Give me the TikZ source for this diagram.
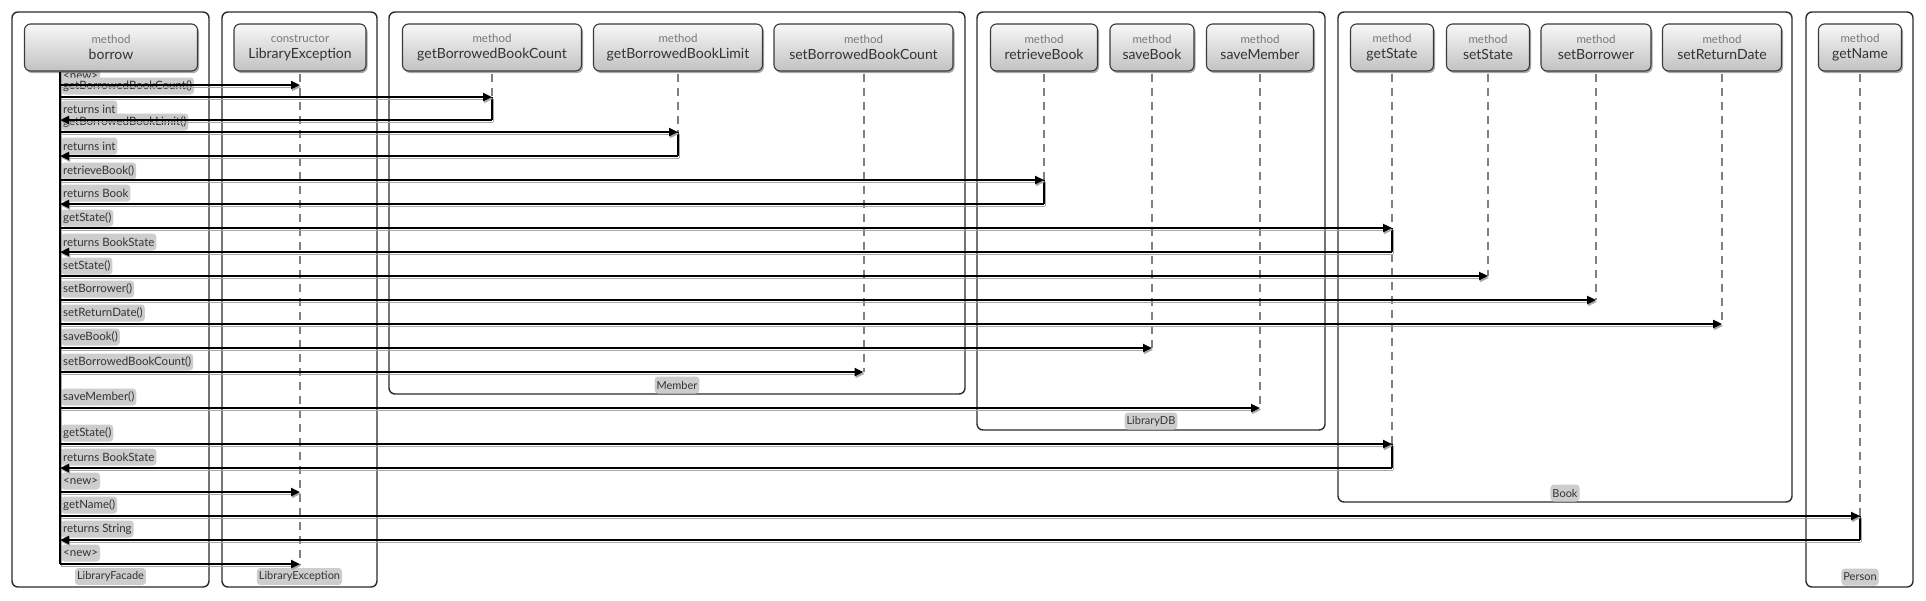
\documentclass[tikz,border=0pt]{standalone}
\usepackage{fontspec}
\setmainfont{Lato}
\usetikzlibrary{arrows.meta,shadows,calc}
\definecolor{framec}{HTML}{2B2B2B}
\definecolor{headborder}{HTML}{3A3A3A}
\definecolor{labelfill}{HTML}{CDCDCD}
\definecolor{labeltext}{HTML}{333333}
\definecolor{lifec}{HTML}{808080}
\definecolor{shadowc}{HTML}{A8A8A8}
\definecolor{headsub}{HTML}{787878}
\definecolor{headmain}{HTML}{333333}
\newcommand\htext[2]{{\fontsize{11.5}{12}\selectfont\color{headsub}#1}\\[4pt]{\fontsize{14}{16}\selectfont\color{headmain}#2}}
\tikzset{
  frame/.style={draw=framec, line width=1.4pt, rounded corners=6pt},
  head/.style={draw=headborder, line width=1.1pt, rounded corners=6pt, top color=white!97!black, bottom color=black!24, minimum height=47pt, inner sep=0pt, align=center, drop shadow={shadow xshift=1.5pt, shadow yshift=-2pt, opacity=0.35, fill=black}},
  lbl/.style={fill=labelfill, rounded corners=3.5pt, inner xsep=2pt, inner ysep=0pt, minimum height=17pt, text=labeltext, font=\fontsize{11.5}{13}\selectfont, anchor=west},
  flbl/.style={lbl, anchor=center, font=\fontsize{11}{13}\selectfont},
  life/.style={draw=lifec, line width=2pt, dash pattern=on 8pt off 6pt, shorten <=2pt},
  shad/.style={preaction={draw=shadowc, transform canvas={shift={(1.2pt,-1.8pt)}}}},
  msg/.style={line width=2.3pt, shad, -{Triangle[length=9pt,width=8pt]}},
  act/.style={line width=2.3pt, shad},
}
\begin{document}
\begin{tikzpicture}[x=1pt,y=-1pt]
\useasboundingbox (0,0) rectangle (1926,600);
\fill[white] (0,0) rectangle (1926,600);
% frames
\draw[frame] (12,12) rectangle (209,587);
\draw[frame] (222,12) rectangle (377,587);
\draw[frame] (389,12) rectangle (965,394);
\draw[frame] (977,12) rectangle (1325,430);
\draw[frame] (1338,12) rectangle (1792,502);
\draw[frame] (1806,12) rectangle (1913,587);
% frame labels
\node[flbl] (fl1) at (110.5,576.5) {LibraryFacade};
\node[flbl] (fl2) at (299.5,576.5) {LibraryException};
\node[flbl] (fl3) at (677,385) {Member};
\node[flbl] (fl4) at (1151,421) {LibraryDB};
\node[flbl] (fl5) at (1565,493) {Book};
\node[flbl] (fl6) at (1860,577) {Person};
% message labels
\node[lbl] (l1) at (61,76) {<new>};
\node[lbl] (l2) at (61,86) {getBorrowedBookCount()};
\node[lbl] (l2r) at (61,109) {returns int};
\node[lbl] (l3) at (61,122) {getBorrowedBookLimit()};
\node[lbl] (l3r) at (61,146) {returns int};
\node[lbl] (l4) at (61,171) {retrieveBook()};
\node[lbl] (l4r) at (61,193) {returns Book};
\node[lbl] (l5) at (61,218) {getState()};
\node[lbl] (l5r) at (61,242) {returns BookState};
\node[lbl] (l6) at (61,266) {setState()};
\node[lbl] (l7) at (61,289) {setBorrower()};
\node[lbl] (l8) at (61,313) {setReturnDate()};
\node[lbl] (l9) at (61,337) {saveBook()};
\node[lbl] (l10) at (61,362) {setBorrowedBookCount()};
\node[lbl] (l11) at (61,397) {saveMember()};
\node[lbl] (l12) at (61,433) {getState()};
\node[lbl] (l12r) at (61,457) {returns BookState};
\node[lbl] (l13) at (61,481) {<new>};
\node[lbl] (l14) at (61,505) {getName()};
\node[lbl] (l14r) at (61,529) {returns String};
\node[lbl] (l15) at (61,553) {<new>};
% heads
\node[head, minimum width=173pt] (borrow) at (111,47.5) {\htext{method}{borrow}};
\node[head, minimum width=132pt] (lexc) at (300,47.5) {\htext{constructor}{LibraryException}};
\node[head, minimum width=179pt] (gbbc) at (492,47.5) {\htext{method}{getBorrowedBookCount}};
\node[head, minimum width=169pt] (gbbl) at (678,47.5) {\htext{method}{getBorrowedBookLimit}};
\node[head, minimum width=179pt] (sbbc) at (863.5,47.5) {\htext{method}{setBorrowedBookCount}};
\node[head, minimum width=107pt] (retb) at (1044,47.5) {\htext{method}{retrieveBook}};
\node[head, minimum width=84pt] (savb) at (1152,47.5) {\htext{method}{saveBook}};
\node[head, minimum width=107pt] (savm) at (1260,47.5) {\htext{method}{saveMember}};
\node[head, minimum width=83pt] (gst) at (1392,47.5) {\htext{method}{getState}};
\node[head, minimum width=83pt] (sst) at (1488,47.5) {\htext{method}{setState}};
\node[head, minimum width=110pt] (sbor) at (1596,47.5) {\htext{method}{setBorrower}};
\node[head, minimum width=119pt] (srd) at (1722,47.5) {\htext{method}{setReturnDate}};
\node[head, minimum width=83pt] (gname) at (1860,47.5) {\htext{method}{getName}};
% message coordinates
\coordinate (m1) at (60,85);
\coordinate (m2) at (60,97);   \coordinate (r2) at (60,120);
\coordinate (m3) at (60,132);  \coordinate (r3) at (60,156);
\coordinate (m4) at (60,180);  \coordinate (r4) at (60,204);
\coordinate (m5) at (60,228);  \coordinate (r5) at (60,252);
\coordinate (m6) at (60,276);
\coordinate (m7) at (60,300);
\coordinate (m8) at (60,324);
\coordinate (m9) at (60,348);
\coordinate (m10) at (60,372);
\coordinate (m11) at (60,408);
\coordinate (m12) at (60,444); \coordinate (r12) at (60,468);
\coordinate (m13) at (60,492);
\coordinate (m14) at (60,516); \coordinate (r14) at (60,540);
\coordinate (m15) at (60,564);
% lifelines
\draw[life] (lexc.south) -- (m15 -| lexc.south);
\draw[life] (gbbc.south) -- (m2 -| gbbc.south);
\draw[life] (gbbl.south) -- (m3 -| gbbl.south);
\draw[life] (sbbc.south) -- (m10 -| sbbc.south);
\draw[life] (retb.south) -- (m4 -| retb.south);
\draw[life] (savb.south) -- (m9 -| savb.south);
\draw[life] (savm.south) -- (m11 -| savm.south);
\draw[life] (gst.south) -- (m5 -| gst.south);
\draw[life] (r5 -| gst.south) -- (m12 -| gst.south);
\draw[life] (sst.south) -- (m6 -| sst.south);
\draw[life] (sbor.south) -- (m7 -| sbor.south);
\draw[life] (srd.south) -- (m8 -| srd.south);
\draw[life] (gname.south) -- (m14 -| gname.south);
% activations
\draw[act] (borrow.south -| m1) -- (m15);
\draw[act] (m2 -| gbbc.south) -- (r2 -| gbbc.south);
\draw[act] (m3 -| gbbl.south) -- (r3 -| gbbl.south);
\draw[act] (m4 -| retb.south) -- (r4 -| retb.south);
\draw[act] (m5 -| gst.south) -- (r5 -| gst.south);
\draw[act] (m12 -| gst.south) -- (r12 -| gst.south);
\draw[act] (m14 -| gname.south) -- (r14 -| gname.south);
% messages
\draw[msg] (m1) -- (m1 -| lexc.south);
\draw[msg] (m2) -- (m2 -| gbbc.south);
\draw[msg] (r2 -| gbbc.south) -- (r2);
\draw[msg] (m3) -- (m3 -| gbbl.south);
\draw[msg] (r3 -| gbbl.south) -- (r3);
\draw[msg] (m4) -- (m4 -| retb.south);
\draw[msg] (r4 -| retb.south) -- (r4);
\draw[msg] (m5) -- (m5 -| gst.south);
\draw[msg] (r5 -| gst.south) -- (r5);
\draw[msg] (m6) -- (m6 -| sst.south);
\draw[msg] (m7) -- (m7 -| sbor.south);
\draw[msg] (m8) -- (m8 -| srd.south);
\draw[msg] (m9) -- (m9 -| savb.south);
\draw[msg] (m10) -- (m10 -| sbbc.south);
\draw[msg] (m11) -- (m11 -| savm.south);
\draw[msg] (m12) -- (m12 -| gst.south);
\draw[msg] (r12 -| gst.south) -- (r12);
\draw[msg] (m13) -- (m13 -| lexc.south);
\draw[msg] (m14) -- (m14 -| gname.south);
\draw[msg] (r14 -| gname.south) -- (r14);
\draw[msg] (m15) -- (m15 -| lexc.south);
\end{tikzpicture}
\end{document}
